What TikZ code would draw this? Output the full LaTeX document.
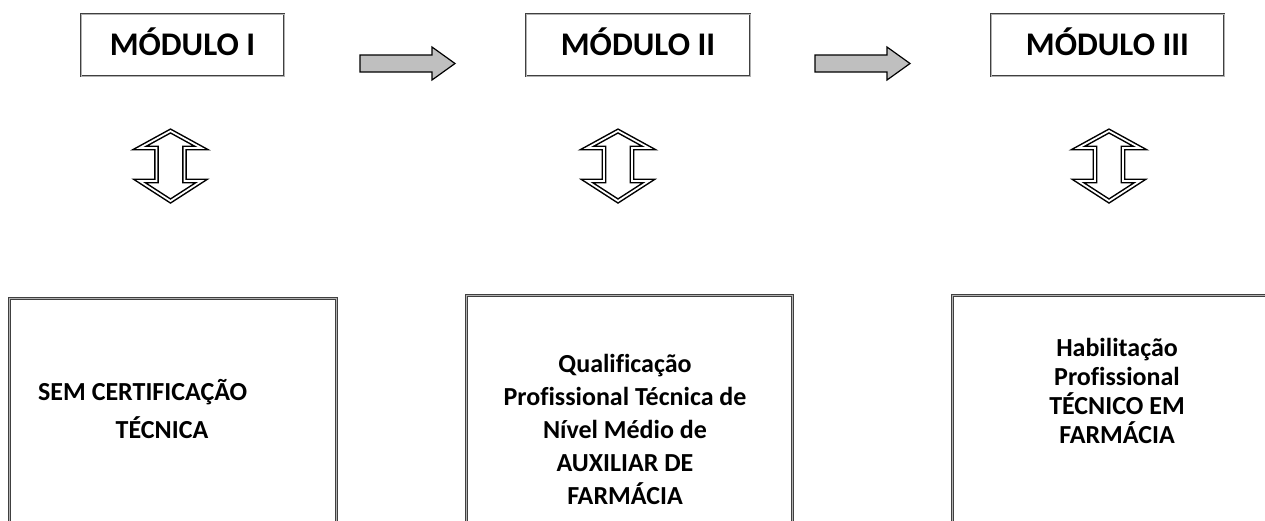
\documentclass[tikz,border=0pt]{standalone}
\usepackage{fontspec}
\setmainfont{Carlito}[Ligatures=CommonOff]
\begin{document}
\begin{tikzpicture}[x=1pt,y=-1pt,
  framebox/.style={draw=black!75, double=black!30, double distance=0.8pt, line width=0.9pt, fill=white, inner sep=0pt},
  modbox/.style={framebox, minimum height=62pt, font=\bfseries\fontsize{33}{33}\selectfont, text height=21pt, text depth=0pt},
  blockarrow/.style={draw=black, line width=1.2pt, fill=black!25, line join=miter},
  updown/.style={draw=black, double=white, line width=1.5pt, double distance=1.8pt, line join=miter},
  body/.style={font=\bfseries\fontsize{26}{33}\selectfont, inner sep=0pt, align=center}
]
\useasboundingbox (0,0) rectangle (1265,520);
\clip (0,0) rectangle (1265,520);

% module boxes
\node[modbox, minimum width=203pt] (m1) at (182.5,45) {MÓDULO I};
\node[modbox, minimum width=224pt] (m2) at (638,45) {MÓDULO II};
\node[modbox, minimum width=233pt] (m3) at (1107.5,45) {MÓDULO III};

% gray block arrows
\foreach \x/\n in {360/a1, 815/a2}{
  \draw[blockarrow] (\x,55) -- ++(72,0) -- ++(0,-8) -- ++(23,16.5) -- ++(-23,16.5) -- ++(0,-8) -- ++(-72,0) -- cycle;
}

% up-down double arrows
\foreach \cx in {170.5, 618, 1109}{
  \draw[updown] (\cx,131) -- ++(31,17) -- ++(-17,0) -- ++(0,33) -- ++(17,0) -- ++(-31,20)
     -- ++(-31,-20) -- ++(17,0) -- ++(0,-33) -- ++(-17,0) -- cycle;
}

% bottom boxes
\node[framebox, minimum width=327pt, minimum height=240pt, anchor=north west] (b1) at (9,298) {};
\node[framebox, minimum width=326pt, minimum height=240pt, anchor=north west] (b2) at (466,295) {};
\node[framebox, minimum width=330pt, minimum height=240pt, anchor=north west] (b3) at (952,295) {};

% texts
\node[body, anchor=base west] (t1a) at (38,400) {SEM CERTIFICAÇÃO};
\node[body, anchor=base] (t1b) at (162,438) {TÉCNICA};
\node[body, anchor=north] (t2) at (625,354) {Qualificação\\Profissional Técnica de\\Nível Médio de\\AUXILIAR DE\\FARMÁCIA};
\node[body, anchor=north, font=\bfseries\fontsize{26}{29}\selectfont] (t3) at (1117,338) {Habilitação\\Profissional\\TÉCNICO EM\\FARMÁCIA};
\end{tikzpicture}
\end{document}
